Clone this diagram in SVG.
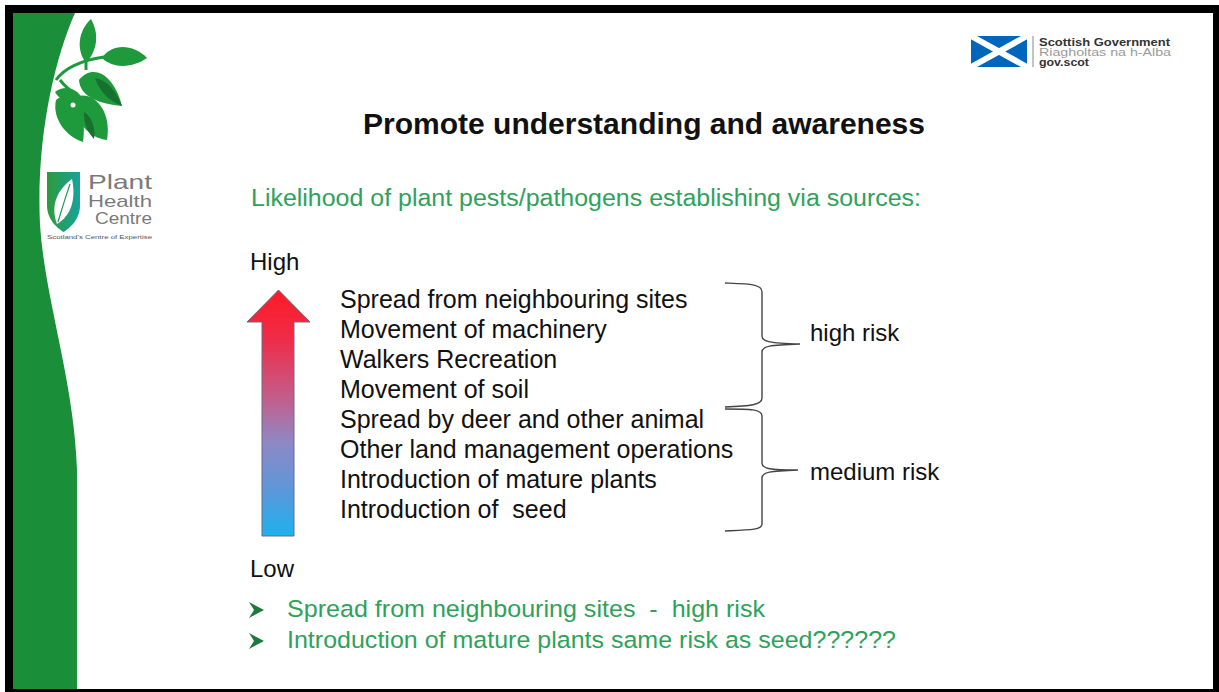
<svg xmlns="http://www.w3.org/2000/svg" width="1219" height="692" viewBox="0 0 1219 692">
  <defs>
    <linearGradient id="riskGrad" x1="0" y1="0" x2="0" y2="1">
      <stop offset="0" stop-color="#ff1a26"/>
      <stop offset="0.2" stop-color="#ee2c48"/>
      <stop offset="0.45" stop-color="#c0608e"/>
      <stop offset="0.62" stop-color="#8e88c6"/>
      <stop offset="0.82" stop-color="#5a98da"/>
      <stop offset="1" stop-color="#1cb2ee"/>
    </linearGradient>
    <linearGradient id="shieldGrad" x1="0" y1="0" x2="1" y2="0">
      <stop offset="0" stop-color="#2f9a3c"/>
      <stop offset="1" stop-color="#17a39c"/>
    </linearGradient>
    <style>
      .txt { font-family: "Liberation Sans", Arial, sans-serif; fill: #111; }
      .item { font-size: 25px; }
      .green { fill: #2ea25a; }
      .brace { fill: none; stroke: #444; stroke-width: 1.4; }
      .leaf { fill: #1e9a3c; }
      .leafDark { fill: #17702d; }
      .bullet { fill: #1d7a3c; }
    </style>
  </defs>

  <!-- frame -->
  <rect x="0" y="0" width="1219" height="692" fill="#ffffff"/>
  <rect x="5" y="5" width="1214" height="687" fill="#000000"/>
  <rect x="13" y="13" width="1200" height="676" fill="#ffffff"/>

  <!-- green side band -->
  <path d="M13,13 L75,13 C54,60 36,140 40,225 C45,300 74,380 77,470 L77,689 L13,689 Z" fill="#1b8e3a"/>

  <!-- sprig of leaves -->
  <g id="sprig">
    <path d="M56,80 C66,66 84,60 104,57" fill="none" stroke="#1e9a3c" stroke-width="3"/>
    <path d="M86,62 L86,70 M60,80 C66,88 72,92 78,96" fill="none" stroke="#1e9a3c" stroke-width="3"/>
    <path class="leaf" d="M86,63 C76,50 78,31 91,19 C99,33 98,50 86,63 Z"/>
    <path class="leaf" d="M102,58 C112,43 133,44 147,58 C133,68 113,69 102,58 Z"/>
    <path class="leaf" d="M79,80 C92,64 113,72 122,106 C100,104 80,97 79,80 Z"/>
    <path class="leafDark" d="M95,78 C108,80 116,92 122,106 C108,100 100,92 95,78 Z"/>
    <path class="leaf" d="M56,100 C70,88 88,104 83,142 C65,136 52,118 56,100 Z"/>
    <path class="leaf" d="M75,97 C93,90 112,110 107,140 C89,138 74,122 75,97 Z"/>
    <path class="leafDark" d="M84,112 C92,116 96,130 94,139 C86,130 84,122 84,112 Z"/>
    <path class="leaf" d="M55,92 C64,85 77,87 83,100 C72,105 61,102 55,92 Z"/>
    <circle cx="73" cy="105" r="2.5" fill="#ffffff"/>
  </g>

  <!-- Plant Health Centre logo -->
  <g id="phc-logo">
    <path d="M47,172 H80 V205 C80,221 68,229 63.5,232 C59,229 47,221 47,205 Z" fill="url(#shieldGrad)"/>
    <path d="M57,224 C50,206 57,190 72,179 C76,198 72,215 57,224 Z" fill="#ffffff"/>
    <path d="M58,222 C62,208 66,196 70,184" fill="none" stroke="#2a9a5a" stroke-width="1.2"/>
    <g font-family="'Liberation Sans', Arial, sans-serif" fill="#7a7a7a">
      <text x="88" y="189" font-size="21" textLength="64" lengthAdjust="spacingAndGlyphs">Plant</text>
      <text x="88" y="207" font-size="17" textLength="64" lengthAdjust="spacingAndGlyphs">Health</text>
      <text x="95" y="224" font-size="17" textLength="57" lengthAdjust="spacingAndGlyphs">Centre</text>
      <text x="47" y="239" font-size="6" fill="#555" textLength="105" lengthAdjust="spacingAndGlyphs">Scotland's Centre of Expertise</text>
    </g>
  </g>

  <!-- Scottish Government logo -->
  <g id="gov-logo">
    <rect x="971" y="36" width="56" height="31" fill="#0065bd"/>
    <path d="M971,36 L1027,67 M1027,36 L971,67" stroke="#ffffff" stroke-width="6"/>
    <line x1="1033" y1="36" x2="1033" y2="67" stroke="#888" stroke-width="1"/>
    <g font-family="'Liberation Sans', Arial, sans-serif" font-size="10.5">
      <text x="1039" y="46" font-weight="bold" fill="#333" textLength="131" lengthAdjust="spacingAndGlyphs">Scottish Government</text>
      <text x="1039" y="56" fill="#9a9a9a" textLength="132" lengthAdjust="spacingAndGlyphs">Riagholtas na h-Alba</text>
      <text x="1039" y="66" font-weight="bold" fill="#333" textLength="50" lengthAdjust="spacingAndGlyphs">gov.scot</text>
    </g>
  </g>

  <!-- heading -->
  <g id="heading">
    <text class="txt" x="363" y="134" font-size="29" font-weight="bold" textLength="562" lengthAdjust="spacingAndGlyphs">Promote understanding and awareness</text>
    <text class="txt green" x="251" y="206" font-size="23.5" textLength="670" lengthAdjust="spacingAndGlyphs">Likelihood of plant pests/pathogens establishing via sources:</text>
  </g>

  <!-- likelihood scale -->
  <g id="scale">
    <text class="txt" x="250" y="270" font-size="24">High</text>
    <polygon points="247,322 278.5,290 310,322 294,322 294,536 262,536 262,322" fill="url(#riskGrad)" stroke="#6b6b85" stroke-width="1"/>
    <text class="txt" x="250" y="577" font-size="24">Low</text>
  </g>

  <!-- sources list -->
  <g id="sources">
    <text class="txt item" x="340" y="308">Spread from neighbouring sites</text>
    <text class="txt item" x="340" y="338">Movement of machinery</text>
    <text class="txt item" x="340" y="368">Walkers Recreation</text>
    <text class="txt item" x="340" y="398">Movement of soil</text>
    <text class="txt item" x="340" y="428">Spread by deer and other animal</text>
    <text class="txt item" x="340" y="458">Other land management operations</text>
    <text class="txt item" x="340" y="488">Introduction of mature plants</text>
    <text class="txt item" x="340" y="518" xml:space="preserve">Introduction of  seed</text>
  </g>

  <!-- braces -->
  <g id="connectors">
    <path class="brace" d="M725,283 C750,284 762,284 762,292 L762,336 C762,342 770,343 800,344 C770,345 762,346 762,352 L762,398 C762,405 750,406 725,407"/>
    <path class="brace" d="M725,409 C750,409 762,409 762,416 L762,463 C762,469 770,470 798,470 C770,471 762,472 762,478 L762,524 C762,530 750,530 725,531"/>
  </g>

  <g id="risk-labels">
    <text class="txt" x="810" y="341" font-size="24">high risk</text>
    <text class="txt" x="810" y="480" font-size="24">medium risk</text>
  </g>

  <!-- notes -->
  <g id="notes">
    <path class="bullet" d="M249,602 L264,610 L249,618 L254,610 Z"/>
    <path class="bullet" d="M249,633 L264,641 L249,649 L254,641 Z"/>
    <text class="txt green" x="287" y="617" font-size="24.5" textLength="478" lengthAdjust="spacingAndGlyphs" xml:space="preserve">Spread from neighbouring sites  -  high risk</text>
    <text class="txt green" x="287" y="648" font-size="24.5" textLength="609" lengthAdjust="spacingAndGlyphs">Introduction of mature plants same risk as seed??????</text>
  </g>
</svg>
